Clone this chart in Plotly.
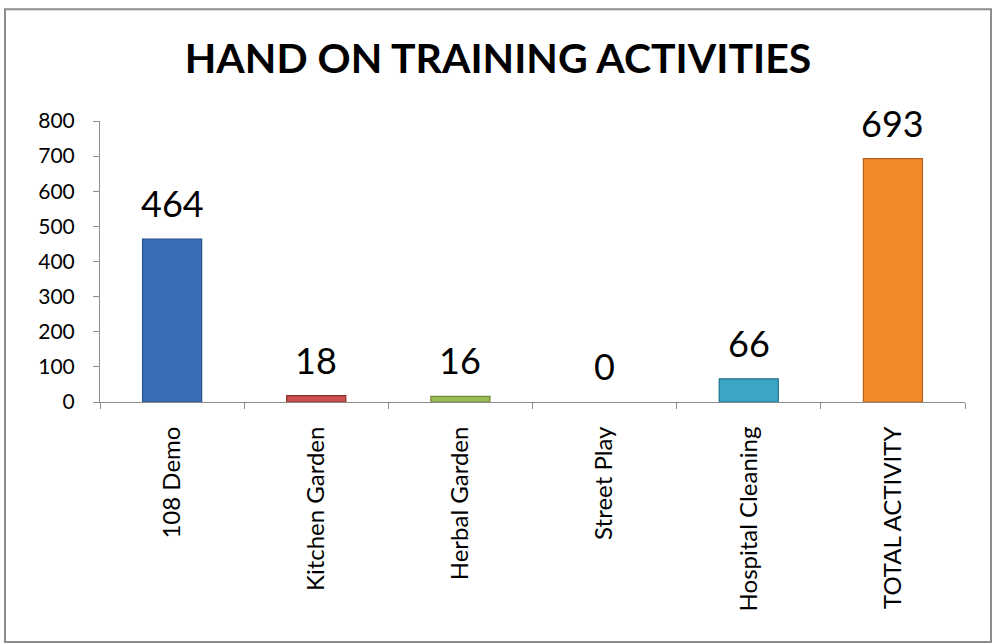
import plotly.graph_objects as go

categories = ["108 Demo", "Kitchen Garden", "Herbal Garden", "Street Play",
              "Hospital Cleaning", "TOTAL ACTIVITY"]
counts = [464, 18, 16, 0, 66, 693]
bar_colors = ["#3A6DB5", "#C9504C", "#9BBB59", "#8064A2", "#3BA5C4", "#F28A2C"]
edge_colors = ["#25518C", "#8E2F2C", "#6F8A36", "#5C4680", "#21728C", "#B5601A"]
y_ticks = [0, 100, 200, 300, 400, 500, 600, 700, 800]

FONT = "Lato, 'Open Sans', sans-serif"
W, H = 992, 644
L, R, T, B = 100, 27, 121, 241.5

fig = go.Figure(go.Bar(
    x=categories,
    y=counts,
    width=0.41,
    marker=dict(color=bar_colors,
                line=dict(color=edge_colors,
                          width=[1.2 if v else 0 for v in counts])),
    hovertemplate="%{x}: %{y}<extra></extra>",
))

# value labels above each bar
for cat, val in zip(categories, counts):
    fig.add_annotation(
        x=cat, y=val, text=str(val), showarrow=False,
        yanchor="bottom", yshift=12,
        font=dict(size=36, color="#000", family=FONT),
    )

# outer chart border
pw, ph = W - L - R, H - T - B
fig.add_shape(
    type="rect", xref="paper", yref="paper",
    x0=(5 - L) / pw, x1=(991 - L) / pw,
    y0=(H - B - 643) / ph, y1=(H - B - 9) / ph,
    line=dict(color="#8C8C8C", width=2), fillcolor="rgba(0,0,0,0)", layer="below",
)

fig.update_layout(
    title=dict(text="<b>HAND ON TRAINING ACTIVITIES</b>", x=498 / W, xanchor="center",
               y=1 - 59 / H, yanchor="middle",
               font=dict(size=41, color="#000", family=FONT)),
    width=W, height=H,
    margin=dict(l=L, r=R, t=T, b=B),
    paper_bgcolor="white",
    plot_bgcolor="white",
    showlegend=False,
    bargap=0.59,
    font=dict(family=FONT, color="#000"),
)
fig.update_xaxes(
    tickangle=-90, tickfont=dict(size=24, family=FONT),
    showline=True, linecolor="#8C8C8C", linewidth=1,
    ticks="outside", ticklen=6, tickcolor="#8C8C8C", tickson="boundaries",
    ticklabelstandoff=14,
    showgrid=False,
)
fig.update_yaxes(
    range=[0, 800], tickvals=y_ticks, tickfont=dict(size=21, family=FONT),
    showline=True, linecolor="#8C8C8C", linewidth=1,
    ticks="outside", ticklen=6, tickcolor="#8C8C8C",
    ticklabelstandoff=14,
    showgrid=False, zeroline=False,
)

fig.write_html("out.html", config={"displayModeBar": False},
               post_script="document.body.style.margin='0';document.body.style.overflow='hidden';")
